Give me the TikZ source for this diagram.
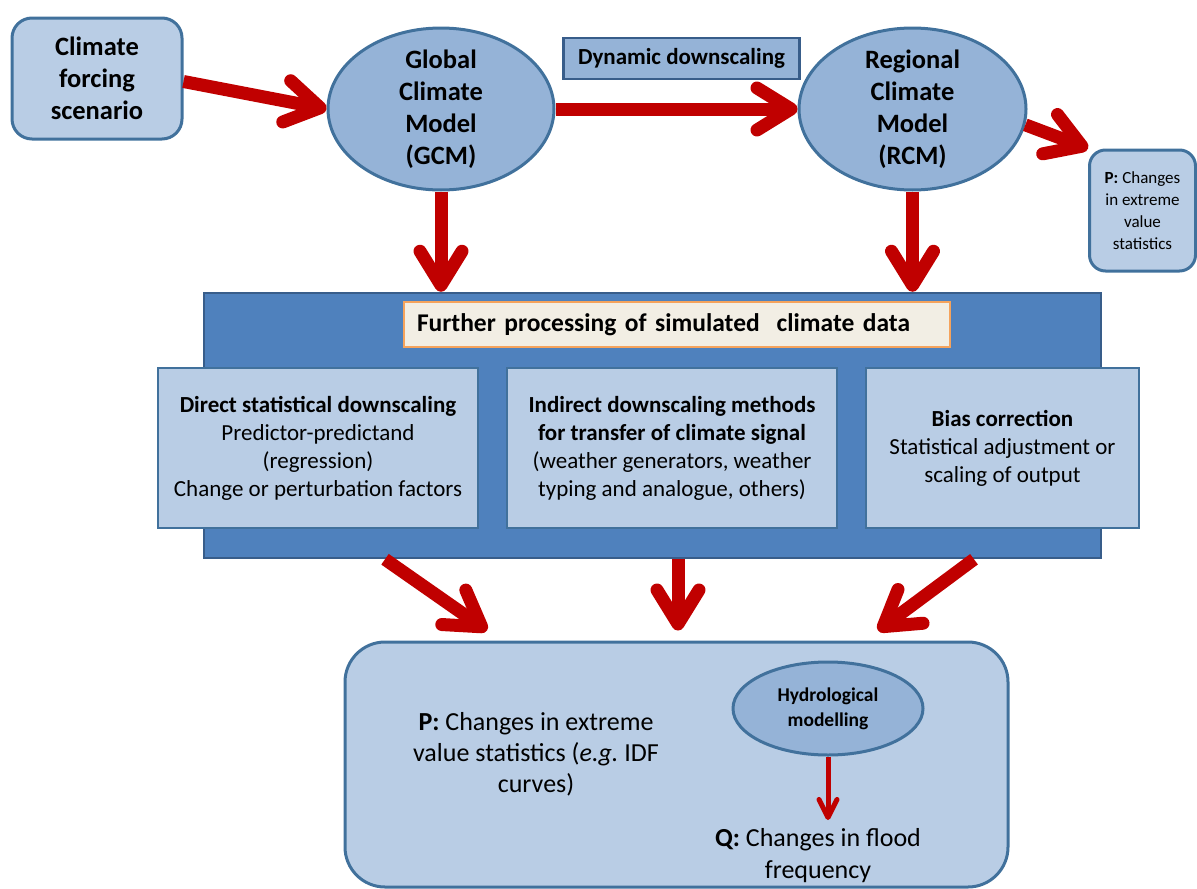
\documentclass[tikz,border=0pt]{standalone}
\usepackage{fontspec}
\setmainfont{Carlito}
\usetikzlibrary{arrows.meta,shapes.geometric,calc}
\frenchspacing

\definecolor{boxfill}{HTML}{B9CDE5}
\definecolor{ellfill}{HTML}{95B3D7}
\definecolor{edge}{HTML}{41719C}
\definecolor{panel}{HTML}{4F81BD}
\definecolor{paneledge}{HTML}{385D8A}
\definecolor{arrowred}{HTML}{C00000}
\definecolor{cream}{HTML}{F2EEE4}
\definecolor{peach}{HTML}{F5A35C}

\tikzset{
  rbox/.style={draw=edge, line width=3pt, fill=boxfill, inner sep=0pt},
  ell/.style={ellipse, draw=edge, line width=3pt, fill=ellfill, inner sep=0pt},
  subbox/.style={draw=edge, line width=2.5pt, fill=boxfill, inner sep=0pt,
    minimum height=160pt, align=center, font=\fontsize{23}{28}\selectfont},
  bigtxt/.style={align=center, inner sep=0pt, font=\bfseries\fontsize{26.5}{32}\selectfont},
  arr/.style={draw=arrowred, line width=13pt,
    -{Straight Barb[length=34pt, width=42pt, round]}},
  thinarr/.style={draw=arrowred, line width=5pt,
    -{Straight Barb[length=18pt, width=18pt, round]}}
}

\begin{document}
\begin{tikzpicture}[x=1pt, y=-1pt]
\useasboundingbox (0,0) rectangle (1197,889);

% top row
\node[rbox, rounded corners=20pt, minimum width=170pt, minimum height=121pt] (cf) at (97,78.5) {};
\node[bigtxt] (cftext) at (cf.center) {Climate\\forcing\\scenario};

\node[ell, minimum width=226pt, minimum height=162pt] (gcm) at (441,109) {};
\node[bigtxt] (gcmtext) at (gcm.center) {Global\\Climate\\Model\\(GCM)};

\node[draw=paneledge, line width=2.5pt, fill=ellfill, minimum width=236pt, minimum height=41pt,
  inner sep=0pt, font=\bfseries\fontsize{23}{26}\selectfont] (dyn) at (681.5,58.5) {Dynamic downscaling};

\node[ell, minimum width=227pt, minimum height=162pt] (rcm) at (912.5,109) {};
\node[bigtxt] (rcmtext) at (rcm.center) {Regional\\Climate\\Model\\(RCM)};

\node[rbox, rounded corners=16pt, minimum width=106pt, minimum height=121pt,
  align=center, font=\fontsize{17}{22}\selectfont] (pbox) at (1142.5,210.5)
  {\textbf{P:} Changes\\in extreme\\value\\statistics};

% processing panel
\node[draw=paneledge, line width=2.5pt, fill=panel, minimum width=897pt, minimum height=265pt,
  inner sep=0pt] (panel) at (652.5,425.5) {};
\node[draw=peach, line width=2pt, fill=cream, text width=520pt, inner xsep=13pt, inner ysep=0pt,
  minimum height=45pt, align=left, font=\bfseries\fontsize{25.5}{28}\selectfont] (further) at (677,324.5)
  {Further processing of simulated \ climate data};

\node[subbox, minimum width=320pt] (direct) at (318,448)
  {\textbf{Direct statistical downscaling}\\Predictor-predictand\\(regression)\\Change or perturbation factors};
\node[subbox, minimum width=330pt] (indirect) at (672,448)
  {\textbf{Indirect downscaling methods}\\\textbf{for transfer of climate signal}\\(weather generators, weather\\typing and analogue, others)};
\node[subbox, minimum width=273pt] (bias) at (1002.5,448)
  {\textbf{Bias correction}\\Statistical adjustment or\\scaling of output};

% results panel
\node[rbox, rounded corners=40pt, minimum width=663pt, minimum height=245pt] (bot) at (676.5,764.5) {};
\node[align=center, inner sep=0pt, font=\fontsize{26}{31}\selectfont] (ptext) at (536,754)
  {\textbf{P:} Changes in extreme\\value statistics (\textit{e.g.}\ IDF\\curves)};
\node[ell, minimum width=190pt, minimum height=93pt] (hyd) at (828,708.5) {};
\node[align=center, inner sep=0pt, font=\bfseries\fontsize{19.5}{25}\selectfont] (hydtext) at (hyd.center)
  {Hydrological\\modelling};
\node[align=center, inner sep=0pt, font=\fontsize{26}{32}\selectfont] (qtext) at (818,856)
  {\textbf{Q:} Changes in flood\\frequency};
\coordinate (qtip) at (828,820);

% arrows
\draw[arr] ([yshift=-3pt]cf.east) -- (gcm.west);
\draw[arr] (gcm.east) -- (rcm.west);
\draw[arr] (rcm.-8) -- (pbox.north west);
\draw[arr] (gcm.south) -- (gcm.south |- panel.north);
\draw[arr] (rcm.south) -- (rcm.south |- panel.north);
\draw[arr] ([xshift=-267.5pt]panel.south) -- ([xshift=-189.5pt,yshift=10pt]bot.north);
\draw[arr] ([xshift=25.5pt]panel.south) -- ([xshift=1.5pt,yshift=10pt]bot.north);
\draw[arr] ([xshift=321.5pt]panel.south) -- ([xshift=201.5pt,yshift=10pt]bot.north);
\draw[thinarr] (hyd.south) -- (qtip);
\end{tikzpicture}
\end{document}
